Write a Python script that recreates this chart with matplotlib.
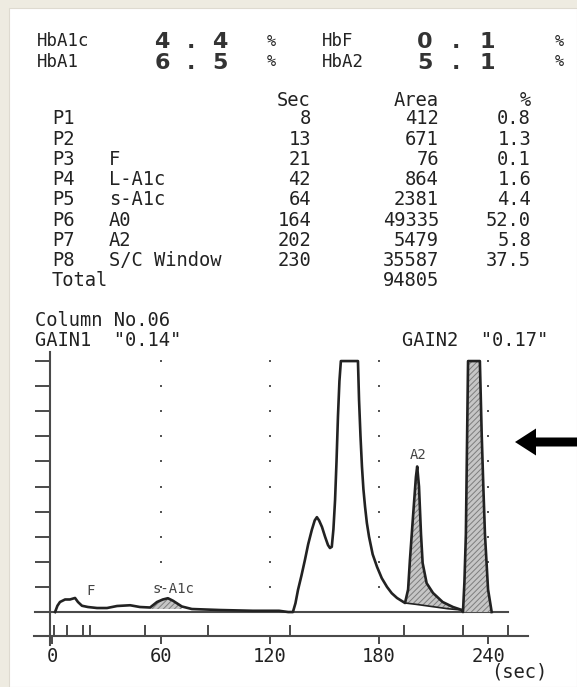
import matplotlib
matplotlib.use("Agg")
import matplotlib.pyplot as plt
import numpy as np
from matplotlib.patches import Rectangle, FancyArrow

# summary values (%)
summary_names_left = ["HbA1c", "HbA1"]
summary_vals_left = ["4.4", "6.5"]
summary_names_right = ["HbF", "HbA2"]
summary_vals_right = ["0.1", "5.1"]

# peak table
peak_ids = ["P1", "P2", "P3", "P4", "P5", "P6", "P7", "P8"]
peak_names = ["", "", "F", "L-A1c", "s-A1c", "A0", "A2", "S/C Window"]
peak_sec = [8, 13, 21, 42, 64, 164, 202, 230]
peak_area = [412, 671, 76, 864, 2381, 49335, 5479, 35587]
peak_pct = [0.8, 1.3, 0.1, 1.6, 4.4, 52.0, 5.8, 37.5]
total_area = 94805

# chromatogram trace (sec, detector units; clipped at 10 by the recorder)
trace_t = np.array([
    1.7, 3.0, 4.4, 7.2, 9.9, 12.7, 14.3, 16.5, 19.8, 24.8, 30.3, 35.8, 43.0,
    48.4, 54.0, 57.8, 61.0, 63.8, 66.6, 71.5, 77.0, 92.5, 110.6, 125.0, 130.0,
    132.6, 134.0, 135.4, 137.3, 139.2, 141.0, 143.0, 144.6, 145.8, 147.0,
    148.6, 150.3, 151.9, 153.0, 154.0, 154.9, 155.8, 156.6, 157.4, 158.2,
    159.0, 168.4, 169.0, 169.8, 170.6, 171.4, 172.3, 173.3, 174.5, 176.5,
    178.9, 181.5, 184.4, 187.0, 189.9, 194.3,
    196.0, 197.0, 198.7, 200.3, 201.0, 202.0, 203.1, 204.0, 206.2, 209.7,
    215.0, 220.7, 225.6,
    226.2, 227.0, 227.8, 229.0, 235.5, 236.5, 237.4, 238.3, 240.0, 242.0,
])
trace_s = np.array([
    0.0, 0.25, 0.40, 0.50, 0.50, 0.56, 0.40, 0.25, 0.20, 0.16, 0.16, 0.24, 0.27,
    0.20, 0.18, 0.40, 0.50, 0.55, 0.45, 0.22, 0.12, 0.08, 0.05, 0.05, 0.0,
    0.0, 0.35, 0.88, 1.45, 2.07, 2.70, 3.27, 3.65, 3.78, 3.65,
    3.39, 3.00, 2.67, 2.55, 2.60, 3.30, 4.46, 6.00, 7.80, 9.20,
    10.0, 10.0, 8.45, 7.00, 5.80, 4.90, 4.20, 3.55, 3.00, 2.30,
    1.80, 1.35, 1.00, 0.75, 0.56, 0.36,
    0.90, 2.07, 3.80, 5.38, 5.80, 5.00, 3.10, 1.95, 1.15, 0.76,
    0.40, 0.20, 0.08,
    0.0, 1.2, 3.1, 10.0, 10.0, 7.1, 5.0, 3.1, 0.9, 0.0,
])

# A0 tail drawn under the A2 peak
skim_t = np.array([194.3, 200.0, 206.0, 212.0, 218.0, 225.6])
skim_s = np.array([0.36, 0.31, 0.25, 0.19, 0.13, 0.08])

# integration event marks and axis ticks
event_t = [1, 8, 17, 21, 51, 86, 131, 194, 226, 251]
x_major = [0, 60, 120, 180, 240]
grid_levels = np.arange(1, 11)

INK = "#222222"
AXIS = "#4a4a4a"
MONO = "DejaVu Sans Mono"
plt.rcParams["hatch.linewidth"] = 0.7

W, H = 577, 687
fig = plt.figure(figsize=(W / 100, H / 100), dpi=100)
fig.patch.set_facecolor("#eeebe1")

# page layer in pixel units
page = fig.add_axes([0, 0, 1, 1])
page.set_xlim(0, W)
page.set_ylim(H, 0)
page.axis("off")
page.add_patch(Rectangle((9, 8), W - 9, H - 8, facecolor="white",
                         edgecolor="#dedad0", lw=0.8))


def wide(x0, y, s, pitch):
    # thermal printer double-width characters
    for i, ch in enumerate(s):
        page.text(x0 + i * pitch, y, ch, ha="center", va="baseline",
                  fontsize=16, fontweight="bold", color="#333333",
                  family="DejaVu Sans")


for i in range(2):
    y = 41 + 21 * i
    page.text(37, y, summary_names_left[i], ha="left", va="center",
              fontsize=12.5, family=MONO, color=INK)
    wide(162, y + 7, summary_vals_left[i], 29)
    page.text(267, y, "%", ha="left", va="center", fontsize=11,
              family=MONO, color=INK)
    page.text(322, y, summary_names_right[i], ha="left", va="center",
              fontsize=12.5, family=MONO, color=INK)
    wide(425, y + 7, summary_vals_right[i], 31)
    page.text(555, y, "%", ha="left", va="center", fontsize=11,
              family=MONO, color=INK)

tkw = dict(va="center", fontsize=13.5, family=MONO, color=INK)
page.text(311, 100, "Sec", ha="right", **tkw)
page.text(439, 100, "Area", ha="right", **tkw)
page.text(531, 100, "%", ha="right", **tkw)
for i in range(len(peak_ids)):
    y = 119 + 20.2 * i
    page.text(52, y, peak_ids[i], ha="left", **tkw)
    page.text(109, y, peak_names[i], ha="left", **tkw)
    page.text(311, y, str(peak_sec[i]), ha="right", **tkw)
    page.text(439, y, str(peak_area[i]), ha="right", **tkw)
    page.text(531, y, f"{peak_pct[i]:.1f}", ha="right", **tkw)
page.text(52, 119 + 20.2 * 8, "Total", ha="left", **tkw)
page.text(439, 119 + 20.2 * 8, str(total_area), ha="right", **tkw)

page.text(35, 320, "Column No.06", ha="left", **tkw)
page.text(35, 340, 'GAIN1  "0.14"', ha="left", **tkw)
page.text(548, 340, 'GAIN2  "0.17"', ha="right", **tkw)
page.text(547, 672, "(sec)", ha="right", **tkw)

page.add_patch(FancyArrow(577, 442, -62, 0, width=9, head_width=27,
                          head_length=21, length_includes_head=True,
                          color="black", lw=0))

# chromatogram
ax = fig.add_axes([20 / W, 1 - 668 / H, 540 / W, 323 / H])
ax.patch.set_visible(False)
ax.set_xlim(-17.6, 279.6)
ax.set_ylim(-2.23, 10.64)
for side in ("top", "right"):
    ax.spines[side].set_visible(False)
ax.spines["left"].set_position(("data", -1.0))
ax.spines["left"].set_bounds(-1.3, 10.35)
ax.spines["bottom"].set_position(("data", -0.96))
ax.spines["bottom"].set_bounds(-10, 262)
for side in ("left", "bottom"):
    ax.spines[side].set_color(AXIS)
    ax.spines[side].set_linewidth(1.5)

ax.set_yticks(range(0, 11))
ax.tick_params(axis="y", direction="out", length=11, width=1.4,
               color=AXIS, labelleft=False)
ax.set_xticks(x_major)
ax.set_xticklabels([str(v) for v in x_major], family=MONO, fontsize=13.5,
                   color=INK)
ax.tick_params(axis="x", which="major", direction="out", length=6,
               width=1.4, pad=2, color=AXIS)
ax.set_xticks(event_t, minor=True)
ax.tick_params(axis="x", which="minor", direction="in", length=8,
               width=1.4, color=AXIS)

gx, gy = np.meshgrid(x_major[1:], grid_levels)
ax.scatter(gx.ravel(), gy.ravel(), marker="s", s=2.5, color="#555555",
           linewidths=0, zorder=1)

ax.plot([-9.4, 251], [0, 0], color=AXIS, lw=1.5, zorder=2)

hatch = dict(facecolor="#c6c6c6", edgecolor="#7d7d7d", hatch="//////",
             lw=0, zorder=3)
m1 = (trace_t >= 54) & (trace_t <= 72)
ax.fill_between(trace_t[m1], trace_s[m1], 0.12, **hatch)
m2 = (trace_t >= 194.3) & (trace_t <= 225.6)
ax.fill(np.r_[trace_t[m2], skim_t[::-1]], np.r_[trace_s[m2], skim_s[::-1]],
        **hatch)
m3 = trace_t >= 226.2
ax.fill_between(trace_t[m3], trace_s[m3], 0, **hatch)

ax.plot(skim_t, skim_s, color=INK, lw=1.2, zorder=4)
ax.plot(trace_t, trace_s, color=INK, lw=1.9, solid_joinstyle="round",
        zorder=5)

lkw = dict(ha="center", va="center", fontsize=10, family=MONO,
           color="#444444")
ax.text(21.5, 0.82, "F", **lkw)
ax.text(67, 0.9, "s-A1c", **lkw)
ax.text(201.4, 6.25, "A2", **lkw)

fig.savefig("out.png", dpi=100, facecolor=fig.get_facecolor())
